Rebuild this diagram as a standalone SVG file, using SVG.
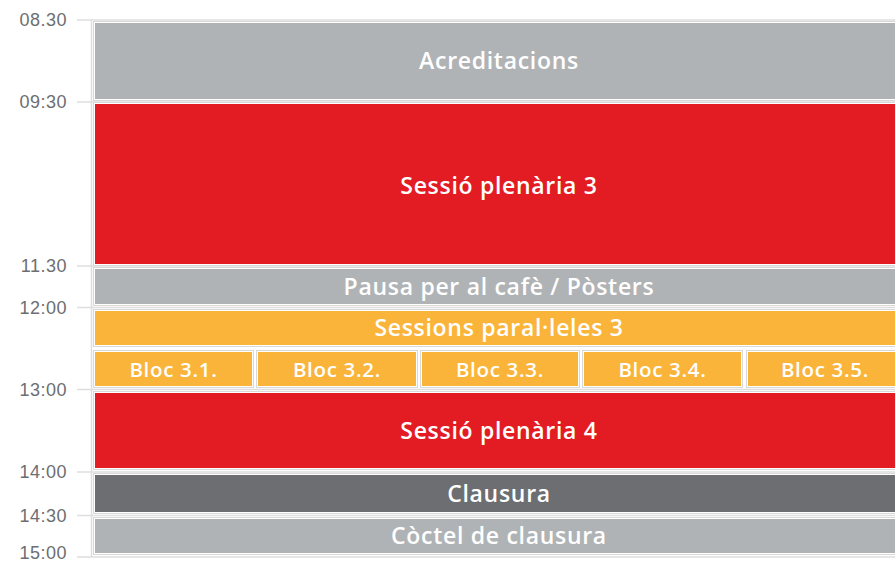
<svg xmlns="http://www.w3.org/2000/svg" width="895" height="563" viewBox="0 0 895 563">
<style>
.bg{fill:#ffffff}
.out{fill:#ffffff;stroke:#d9d9d9;stroke-width:1}
.grey{fill:#b0b3b5}
.red{fill:#e31c23}
.orange{fill:#fbb43a}
.dark{fill:#6d6e71}
.lbl{font-family:"Open Sans","Liberation Sans",Arial,sans-serif;font-weight:600;fill:#ffffff;text-anchor:middle;font-size:23px;letter-spacing:0.7px}
.blk{font-size:20.5px;letter-spacing:0.7px}
.time{font-family:"Liberation Sans",Arial,sans-serif;font-size:18px;fill:#6d6e71;text-anchor:end;letter-spacing:0.5px}
.grid{stroke:#dedede;stroke-width:1.5;fill:none}
</style>
<rect class="bg" x="0" y="0" width="895" height="563"/>
<g id="axis">
<path class="grid" d="M77 20H895M77 102H895M77 266H895M77 307.5H895M77 389.5H895M77 472H895M77 515.5H895M77 557H895M91.5 20V557"/>
<text class="time" x="67" y="26">08.30</text>
<text class="time" x="67" y="108">09:30</text>
<text class="time" x="67" y="272">11.30</text>
<text class="time" x="67" y="313.5">12:00</text>
<text class="time" x="67" y="395.5">13:00</text>
<text class="time" x="67" y="478">14:00</text>
<text class="time" x="67" y="521.5">14:30</text>
<text class="time" x="67" y="559">15:00</text>
</g>
<g id="acreditacions">
<rect class="out" x="93.5" y="21.5" width="804" height="79"/>
<rect class="grey" x="95" y="23" width="800" height="76"/>
<text class="lbl" x="499" y="69">Acreditacions</text>
</g>
<g id="plenaria3">
<rect class="out" x="93.5" y="102.5" width="804" height="163"/>
<rect class="red" x="95" y="104" width="800" height="160"/>
<text class="lbl" x="499" y="194">Sessió plenària 3</text>
</g>
<g id="pausa">
<rect class="out" x="93.5" y="267.5" width="804" height="38"/>
<rect class="grey" x="95" y="269" width="800" height="35"/>
<text class="lbl" x="499" y="295">Pausa per al cafè / Pòsters</text>
</g>
<g id="paralleles3">
<rect class="out" x="93.5" y="309.5" width="804" height="37"/>
<rect class="orange" x="95" y="311" width="800" height="34"/>
<text class="lbl" x="499" y="336">Sessions paral·leles 3</text>
</g>
<g id="bloc31">
<rect class="out" x="93.5" y="350.5" width="160" height="37"/>
<rect class="orange" x="95" y="352" width="157" height="34"/>
<text class="lbl blk" x="173.5" y="376.5">Bloc 3.1.</text>
</g>
<g id="bloc32">
<rect class="out" x="256.5" y="350.5" width="161" height="37"/>
<rect class="orange" x="258" y="352" width="158" height="34"/>
<text class="lbl blk" x="337" y="376.5">Bloc 3.2.</text>
</g>
<g id="bloc33">
<rect class="out" x="420.5" y="350.5" width="159" height="37"/>
<rect class="orange" x="422" y="352" width="156" height="34"/>
<text class="lbl blk" x="500" y="376.5">Bloc 3.3.</text>
</g>
<g id="bloc34">
<rect class="out" x="582.5" y="350.5" width="160" height="37"/>
<rect class="orange" x="584" y="352" width="157" height="34"/>
<text class="lbl blk" x="662.5" y="376.5">Bloc 3.4.</text>
</g>
<g id="bloc35">
<rect class="out" x="746.5" y="350.5" width="151" height="37"/>
<rect class="orange" x="748" y="352" width="147" height="34"/>
<text class="lbl blk" x="825" y="376.5">Bloc 3.5.</text>
</g>
<g id="plenaria4">
<rect class="out" x="93.5" y="391.5" width="804" height="78"/>
<rect class="red" x="95" y="393" width="800" height="75"/>
<text class="lbl" x="499" y="439">Sessió plenària 4</text>
</g>
<g id="clausura">
<rect class="out" x="93.5" y="473.5" width="804" height="40"/>
<rect class="dark" x="95" y="475" width="800" height="37"/>
<text class="lbl" x="499" y="502">Clausura</text>
</g>
<g id="coctel">
<rect class="out" x="93.5" y="517.5" width="804" height="37"/>
<rect class="grey" x="95" y="519" width="800" height="34"/>
<text class="lbl" x="499" y="544">Còctel de clausura</text>
</g>
</svg>
